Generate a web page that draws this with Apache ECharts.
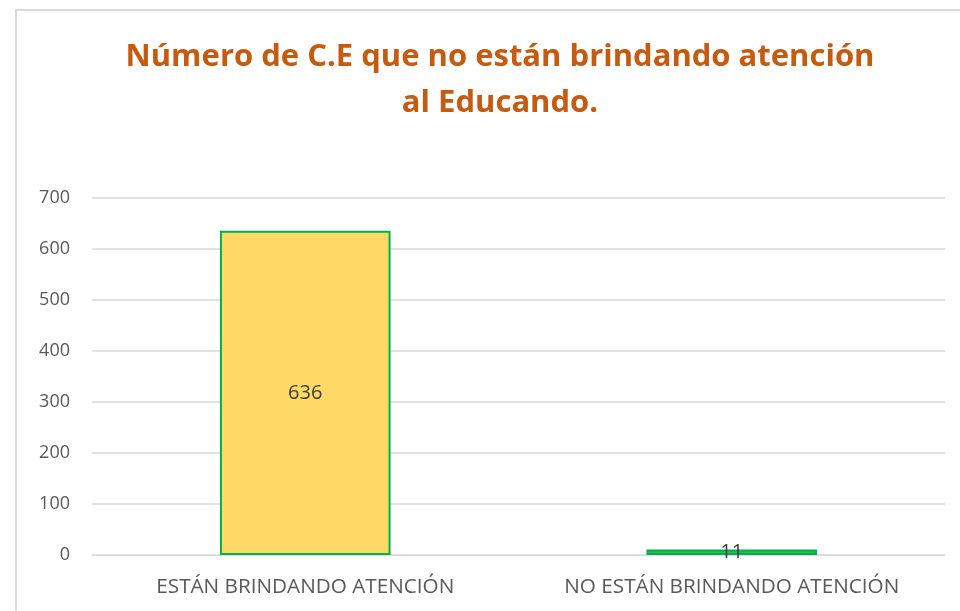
<!DOCTYPE html>
<html>
<head>
<meta charset="utf-8">
<script src="https://cdn.jsdelivr.net/npm/echarts@6/dist/echarts.min.js"></script>
<style>
  html, body { margin: 0; padding: 0; background: #ffffff; }
  #frame { position: absolute; left: 15px; top: 9px; width: 960px; height: 620px; border: 2px solid #d9d9d9; box-sizing: border-box; }
  #main { position: absolute; left: 0; top: 0; width: 960px; height: 611px; }
</style>
</head>
<body>
<div id="frame"></div>
<div id="main"></div>
<script>
  const categories = ['ESTÁN BRINDANDO ATENCIÓN', 'NO ESTÁN BRINDANDO ATENCIÓN'];
  const values = [636, 11];
  const barColors = ['#ffd966', '#3cb44b'];

  var chartDom = document.getElementById('main');
  var myChart = echarts.init(chartDom);

  var option = {
    animation: false,
    title: {
      text: 'Número de C.E que no están brindando atención\nal Educando.',
      left: 495,
      textAlign: 'center',
      top: 29,
      textStyle: {
        fontFamily: 'Open Sans',
        fontSize: 31,
        fontWeight: 'bold',
        color: '#c55a11',
        lineHeight: 46
      }
    },
    grid: {
      left: 92,
      right: 15,
      top: 198,
      bottom: 56
    },
    xAxis: {
      type: 'category',
      data: categories,
      axisTick: { show: false },
      axisLine: { show: true, lineStyle: { color: '#d9d9d9', width: 1 } },
      axisLabel: {
        interval: 0,
        hideOverlap: false,
        fontFamily: 'Open Sans',
        fontSize: 20.7,
        color: '#595959',
        margin: 22
      }
    },
    yAxis: {
      type: 'value',
      min: 0,
      max: 700,
      interval: 100,
      axisLine: { show: false },
      axisTick: { show: false },
      axisLabel: {
        fontFamily: 'Open Sans',
        fontSize: 18,
        color: '#595959',
        margin: 22
      },
      splitLine: { lineStyle: { color: '#d9d9d9', width: 1.5 } }
    },
    series: [
      {
        type: 'bar',
        barWidth: '40%',
        data: values.map((v, i) => ({
          value: v,
          itemStyle: {
            color: barColors[i],
            borderColor: '#00b050',
            borderWidth: 2
          }
        })),
        label: {
          show: true,
          position: 'inside',
          fontFamily: 'Open Sans',
          fontSize: 20,
          color: '#404040'
        }
      }
    ]
  };

  option && myChart.setOption(option);
</script>
</body>
</html>
